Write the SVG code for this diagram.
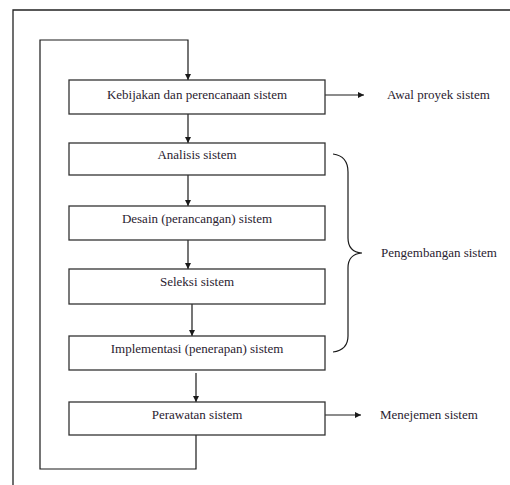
<svg xmlns="http://www.w3.org/2000/svg" width="510" height="485" viewBox="0 0 510 485">
<style>
.box{fill:#fff;stroke:#333;stroke-width:1.3}
.ln{fill:none;stroke:#1a1a1a;stroke-width:1.2}
text{font-family:'Liberation Serif','Times New Roman',serif;font-size:13px;fill:#2a2230}
.c{text-anchor:middle}
</style>
<defs>
<marker id="ah" viewBox="0 0 8 8" refX="8" refY="4" markerWidth="6" markerHeight="6" markerUnits="userSpaceOnUse" orient="auto">
<path d="M0,0 L8,4 L0,8 z" fill="#1a1a1a"/>
</marker>
</defs>
<rect width="510" height="485" fill="#fff"/>
<path d="M13,485 V10 H510" fill="none" stroke="#222" stroke-width="1.3"/>
<g id="connectors">
<path class="ln" d="M196,435 V469 H40 V40 H188 V80" marker-end="url(#ah)"/>
<path class="ln" d="M188,114 V143" marker-end="url(#ah)"/>
<path class="ln" d="M188,175 V206" marker-end="url(#ah)"/>
<path class="ln" d="M188,240 V269" marker-end="url(#ah)"/>
<path class="ln" d="M192,304 V336" marker-end="url(#ah)"/>
<path class="ln" d="M196,373 V402" marker-end="url(#ah)"/>
<path class="ln" d="M325,95 H364" marker-end="url(#ah)"/>
<path class="ln" d="M325,415 H361" marker-end="url(#ah)"/>
<path class="ln" d="M333,154 Q348,156 348,172 V238 Q348,252 362,253 Q348,254 348,268 V336 Q348,350 333,352"/>
</g>
<g id="n1"><rect class="box" x="69" y="80" width="256" height="34"/><text class="c" x="197" y="99" font-family="Liberation Serif">Kebijakan dan perencanaan sistem</text></g>
<g id="n2"><rect class="box" x="69" y="143" width="256" height="32"/><text class="c" x="197" y="159" font-family="Liberation Serif">Analisis sistem</text></g>
<g id="n3"><rect class="box" x="69" y="206" width="256" height="34"/><text class="c" x="197" y="223" font-family="Liberation Serif">Desain (perancangan) sistem</text></g>
<g id="n4"><rect class="box" x="69" y="269" width="256" height="35"/><text class="c" x="197" y="286" font-family="Liberation Serif">Seleksi sistem</text></g>
<g id="n5"><rect class="box" x="69" y="336" width="256" height="34"/><text class="c" x="197" y="353" font-family="Liberation Serif">Implementasi (penerapan) sistem</text></g>
<g id="n6"><rect class="box" x="69" y="402" width="256" height="33"/><text class="c" x="197" y="419" font-family="Liberation Serif">Perawatan sistem</text></g>
<g id="l1"><text x="387" y="99" font-family="Liberation Serif">Awal proyek sistem</text></g>
<g id="l2"><text x="381" y="257" font-family="Liberation Serif">Pengembangan sistem</text></g>
<g id="l3"><text x="380" y="419" font-family="Liberation Serif">Menejemen sistem</text></g>
</svg>
